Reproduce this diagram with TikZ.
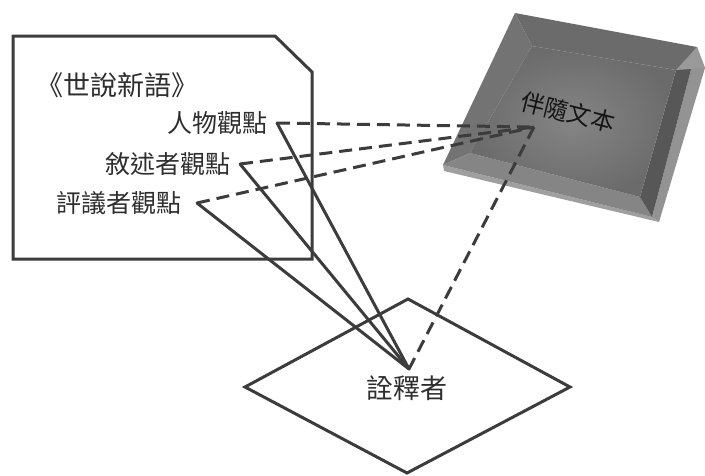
\documentclass[tikz,border=0pt]{standalone}
\usepackage{fontspec}
\newfontfamily\cjk{Noto Sans CJK TC}
\usetikzlibrary{calc}
\definecolor{ink}{HTML}{3C3C3C}
\definecolor{txt}{HTML}{2E2E2E}
\tikzset{
  solidline/.style={draw=ink, line width=3pt, line cap=round, line join=miter},
  dashline/.style={draw=ink, line width=3pt, dash pattern=on 13pt off 7pt},
  frame/.style={draw=ink, line width=3pt, line join=miter},
  lab/.style={font=\cjk\fontsize{25}{25}\selectfont, text=txt, inner ysep=0pt},
}
\begin{document}
\begin{tikzpicture}[x=1pt,y=-1pt]
\useasboundingbox (0,0) rectangle (705,475);
% book frame
\draw[frame] (13,36) -- (275,36) -- (312,72) -- (312,259) -- (13,259) -- cycle;
\node[lab, anchor=west, inner xsep=0pt, font=\cjk\fontsize{27}{27}\selectfont] (book) at (36,85) {《世說新語》};
\node[lab, anchor=east, inner xsep=9pt] (ren) at (277,123) {人物觀點};
\node[lab, anchor=east, inner xsep=9pt] (xu) at (240,164) {敘述者觀點};
\node[lab, anchor=east, inner xsep=15pt] (ping) at (197,203) {評議者觀點};
% diamond
\draw[frame] (408,299) -- (570,387) -- (407,473) -- (245,387) -- cycle;
\node[lab, font=\cjk\fontsize{27}{27}\selectfont] (quan) at (407,388) {詮釋者};
\coordinate (meet) at (409,369);
% companion text box
\coordinate (A) at (515,13);
\coordinate (B) at (697,47);
\coordinate (C) at (652,217);
\coordinate (D) at (443,165);
\coordinate (a) at (532,46);
\coordinate (b) at (676,70);
\coordinate (c) at (640,197);
\coordinate (d) at (470,153);
\fill[gray!85!white] (B) -- (705,68) -- (659,222) -- (C) -- cycle;
\fill[gray!75!white] (D) -- (C) -- (659,222) -- (444,171) -- cycle;
\fill[black!58] (A) -- (B) -- (b) -- (a) -- cycle;
\fill[black!55] (A) -- (a) -- (d) -- (D) -- cycle;
\fill[black!48] (D) -- (d) -- (c) -- (C) -- cycle;
\fill[black!66] (B) -- (C) -- (c) -- (b) -- cycle;
\fill[black!40] (B) -- (705,68) -- (b) -- cycle;
\shade[inner color=black!48, outer color=black!58] (a) -- (b) -- (c) -- (d) -- cycle;
\node[font=\cjk\fontsize{24}{24}\selectfont, text=black!92, rotate=-14] (ban) at (568,112) {伴隨文本};
\coordinate (hub) at (534,127);
% connectors
\draw[dashline] (ren.east) -- (hub);
\draw[dashline] (xu.east) -- (hub);
\draw[dashline] (ping.east) -- (hub);
\draw[dashline] (hub) -- (meet);
\draw[solidline] (ren.east) -- (meet);
\draw[solidline] (xu.east) -- (meet);
\draw[solidline] (ping.east) -- (meet);
\end{tikzpicture}
\end{document}
